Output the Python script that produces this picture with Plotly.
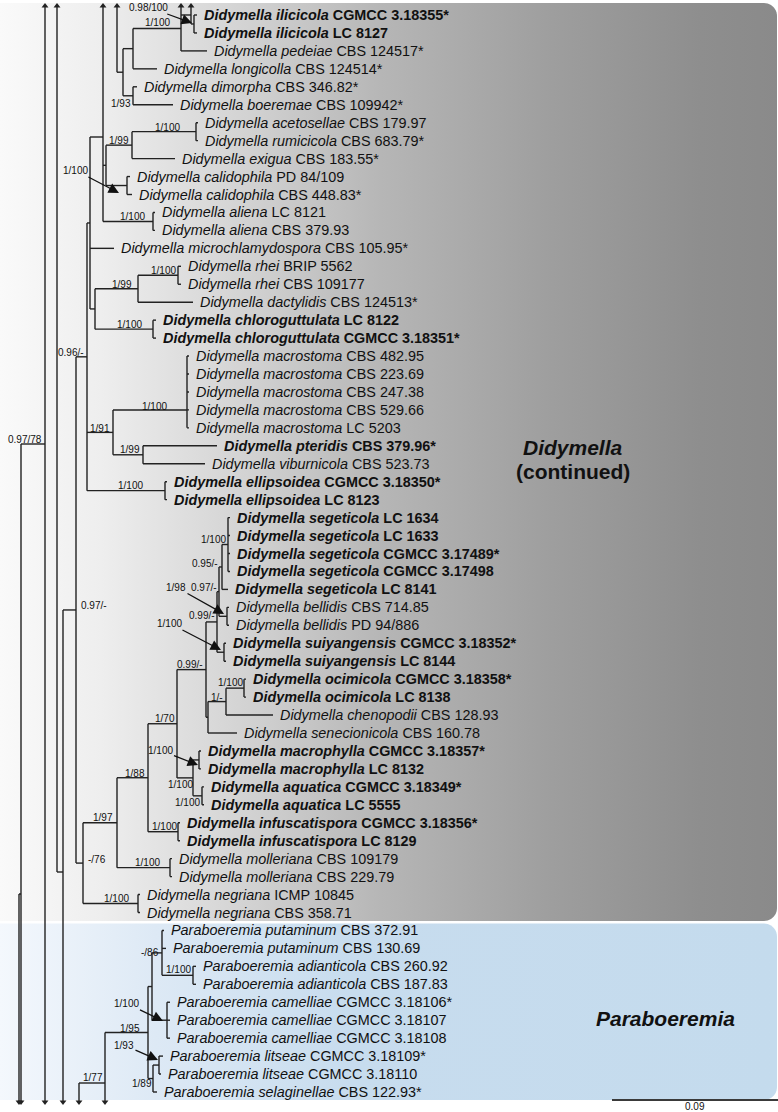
import numpy as np
import plotly.graph_objects as go

W, H = 778, 1112
ROW0, ROWH = 15.0, 17.95      # first leaf row and row spacing (px units of the axes)
GHOST_UP, GHOST_DOWN = 6.0, 1102.0

# ---------------- leaves ----------------
leaf_taxon = [
    "Didymella ilicicola", "Didymella ilicicola", "Didymella pedeiae", "Didymella longicolla",
    "Didymella dimorpha", "Didymella boeremae", "Didymella acetosellae", "Didymella rumicicola",
    "Didymella exigua", "Didymella calidophila", "Didymella calidophila", "Didymella aliena",
    "Didymella aliena", "Didymella microchlamydospora", "Didymella rhei", "Didymella rhei",
    "Didymella dactylidis", "Didymella chloroguttulata", "Didymella chloroguttulata",
    "Didymella macrostoma", "Didymella macrostoma", "Didymella macrostoma", "Didymella macrostoma",
    "Didymella macrostoma", "Didymella pteridis", "Didymella viburnicola", "Didymella ellipsoidea",
    "Didymella ellipsoidea", "Didymella segeticola", "Didymella segeticola", "Didymella segeticola",
    "Didymella segeticola", "Didymella segeticola", "Didymella bellidis", "Didymella bellidis",
    "Didymella suiyangensis", "Didymella suiyangensis", "Didymella ocimicola", "Didymella ocimicola",
    "Didymella chenopodii", "Didymella senecionicola", "Didymella macrophylla", "Didymella macrophylla",
    "Didymella aquatica", "Didymella aquatica", "Didymella infuscatispora", "Didymella infuscatispora",
    "Didymella molleriana", "Didymella molleriana", "Didymella negriana", "Didymella negriana",
    "Paraboeremia putaminum", "Paraboeremia putaminum", "Paraboeremia adianticola",
    "Paraboeremia adianticola", "Paraboeremia camelliae", "Paraboeremia camelliae",
    "Paraboeremia camelliae", "Paraboeremia litseae", "Paraboeremia litseae",
    "Paraboeremia selaginellae",
]
leaf_strain = [
    "CGMCC 3.18355*", "LC 8127", "CBS 124517*", "CBS 124514*", "CBS 346.82*", "CBS 109942*",
    "CBS 179.97", "CBS 683.79*", "CBS 183.55*", "PD 84/109", "CBS 448.83*", "LC 8121",
    "CBS 379.93", "CBS 105.95*", "BRIP 5562", "CBS 109177", "CBS 124513*", "LC 8122",
    "CGMCC 3.18351*", "CBS 482.95", "CBS 223.69", "CBS 247.38", "CBS 529.66", "LC 5203",
    "CBS 379.96*", "CBS 523.73", "CGMCC 3.18350*", "LC 8123", "LC 1634", "LC 1633",
    "CGMCC 3.17489*", "CGMCC 3.17498", "LC 8141", "CBS 714.85", "PD 94/886", "CGMCC 3.18352*",
    "LC 8144", "CGMCC 3.18358*", "LC 8138", "CBS 128.93", "CBS 160.78", "CGMCC 3.18357*",
    "LC 8132", "CGMCC 3.18349*", "LC 5555", "CGMCC 3.18356*", "LC 8129", "CBS 109179",
    "CBS 229.79", "ICMP 10845", "CBS 358.71", "CBS 372.91", "CBS 130.69", "CBS 260.92",
    "CBS 187.83", "CGMCC 3.18106*", "CGMCC 3.18107", "CGMCC 3.18108", "CGMCC 3.18109*",
    "CGMCC 3.18110", "CBS 122.93*",
]
leaf_bold = [
    1, 1, 0, 0, 0, 0, 0, 0, 0, 0, 0, 0, 0, 0, 0, 0, 0, 1, 1, 0, 0, 0, 0, 0, 1, 0, 1, 1,
    1, 1, 1, 1, 1, 0, 0, 1, 1, 1, 1, 0, 0, 1, 1, 1, 1, 1, 1, 0, 0, 0, 0,
    0, 0, 0, 0, 0, 0, 0, 0, 0, 0,
]
leaf_parent = [
    "ilic", "ilic", "B", "C", "D", "D", "acet", "acet", "H1", "cali", "cali", "alie", "alie",
    "I", "rhei", "rhei", "P", "chlo", "chlo", "macr", "macr", "macr", "macr", "macr", "pter",
    "pter", "elli", "elli", "seg4", "seg4", "seg4", "seg4", "AA", "bell", "bell", "suiy",
    "suiy", "ocim", "ocim", "Z", "Y", "maph", "maph", "aqua", "aqua", "infu", "infu", "moll",
    "moll", "negr", "negr", "puta", "puta", "adia", "adia", "came", "came", "came", "lits",
    "lits", "PD",
]
leaf_tip = [
    197, 197, 207, 157, 137, 173, 198, 198, 175, 130, 132, 155, 155, 114, 181, 181, 193,
    156, 156, 189, 189, 189, 189, 189, 217, 205, 167, 167, 230, 230, 230, 230, 228, 229,
    229, 226, 226, 246, 246, 273, 237, 201, 201, 204, 204, 180, 180, 172, 172, 140, 140,
    164, 166, 196, 196, 170, 170, 170, 163, 161, 157,
]

# ---------------- internal nodes ----------------
node_name = [
    "ilic", "A", "B", "C", "D", "E", "F", "acet", "H1", "cali", "H", "alie", "G", "rhei", "P",
    "chlo", "J", "I", "macr", "pter", "N", "elli", "K", "seg4", "AA", "bell", "BB", "suiy",
    "X", "ocim", "Z", "Y", "W", "maph", "aqua", "V", "U", "infu", "T", "moll", "S", "negr",
    "R", "O", "N63", "N57", "N45", "N21", "N19",
    "puta", "adia", "came", "PC", "lits", "PD", "PB", "N105", "N79",
]
node_parent = [
    "A", "B", "C", "E", "E", "F", None, "H1", "H", "H", "G", "G", "I", "P", "J",
    "J", "I", "K", "N", "N", "K", "K", "O", "AA", "BB", "BB", "X", "X",
    "W", "Z", "Y", "W", "U", "V", "V", "U", "T", "T", "S", "S", "R", "R",
    "O", "N63", "N57", None, "N21", "N19", None,
    "PC", "puta", "PC", "PB", "PD", "PB", "N105", "N79", None,
]
node_depth = [
    194, 191, 181, 133, 133, 123, 117, 196, 132, 127, 106, 153, 103, 178, 138,
    153, 95, 90, 187, 143, 113, 165, 87, 228, 222, 227, 219, 224,
    217, 244, 226, 208, 206, 199, 202, 193, 177, 178, 148, 170, 117, 138,
    83, 76, 63, 57, 45, 21, 19,
    162, 193, 167, 152, 159, 153, 148, 105, 79,
]
# branches leaving the page (tree continues on the neighbouring figure pages)
node_ghost = {"A": "u", "B": "u", "F": "u", "G": "u", "N57": "u", "N45": "ud",
              "N21": "d", "N19": "d", "N63": "d", "N105": "d", "N79": "d"}
node_ypos = {"G": 137, "macr": 410, "N63": 872, "N45": 444, "N21": 894, "N105": 1083}

# ---------------- support values ----------------
sup_text = ["0.98/100", "1/100", "1/93", "1/100", "1/99", "1/100", "1/100", "1/100", "1/99",
            "1/100", "0.96/-", "1/100", "1/91", "1/99", "1/100", "0.97/78", "1/100", "0.95/-",
            "0.97/-", "1/98", "0.99/-", "1/100", "0.99/-", "1/100", "1/-", "1/70", "1/100",
            "1/88", "1/100", "1/100", "1/97", "1/100", "-/76", "1/100", "1/100", "0.97/-",
            "-/86", "1/100", "1/100", "1/95", "1/93", "1/89", "1/77"]
sup_x = [148, 157, 121, 167, 119, 75, 132, 163, 122, 129, 71, 154, 100, 130, 130, 25, 213,
         205, 204, 176, 202, 169, 190, 230, 217, 165, 160, 135, 180, 187, 103, 164, 97, 147,
         116, 94, 150, 178, 126, 130, 124, 142, 93]
sup_y = [7, 22, 103, 127, 140, 170, 216, 270, 284, 324, 352, 406, 428, 449, 485, 439, 539,
         563, 587, 587, 615, 623, 664, 682, 697, 718, 750, 773, 784, 802, 817, 826, 859, 862,
         898, 605, 952, 969, 1003, 1028, 1045, 1083, 1077]
sup_arrow_to = {0: (192, 23), 5: (119, 193), 19: (224, 614), 21: (221, 650),
                26: (198, 765), 38: (163, 1021), 40: (158, 1060)}

clade_text = ["<b><i>Didymella</i></b>", "<b>(continued)</b>", "<b><i>Paraboeremia</i></b>"]
clade_x = [573, 573, 665]
clade_y = [447, 471, 1018]

scale_value = 0.09
scale_px = 166          # length of the 0.09 scale bar in axis units

# ---------------- layout of the tree ----------------
n_leaf = len(leaf_taxon)
leaf_y = [ROW0 + ROWH * i for i in range(n_leaf)]
depth = dict(zip(node_name, node_depth))
parent = dict(zip(node_name, node_parent))
children = {n: [] for n in node_name}
for i, p in enumerate(leaf_parent):
    children[p].append(("leaf", i))
for n, p in zip(node_name, node_parent):
    if p is not None:
        children[p].append(("node", n))

ypos = {}


def child_ys(n):
    ys = [leaf_y[c] if k == "leaf" else node_y(c) for k, c in children[n]]
    g = node_ghost.get(n, "")
    if "u" in g:
        ys.append(GHOST_UP)
    if "d" in g:
        ys.append(GHOST_DOWN)
    return ys


def node_y(n):
    if n not in ypos:
        ys = child_ys(n)
        ypos[n] = node_ypos.get(n, (min(ys) + max(ys)) / 2.0)
    return ypos[n]


for n in node_name:
    node_y(n)

sx, sy = [], []
for n in node_name:
    ys = child_ys(n)
    sx += [depth[n], depth[n], None]
    sy += [min(ys), max(ys), None]
    if parent[n] is not None:
        sx += [depth[parent[n]], depth[n], None]
        sy += [ypos[n], ypos[n], None]
for i in range(n_leaf):
    sx += [depth[leaf_parent[i]], leaf_tip[i], None]
    sy += [leaf_y[i], leaf_y[i], None]

up_x = [depth[n] for n in node_name if "u" in node_ghost.get(n, "")]
dn_x = [depth[n] for n in node_name if "d" in node_ghost.get(n, "")]


def rrect(x0, x1, y0, y1, r):
    t1 = np.linspace(np.pi / 2, 0, 12)
    t2 = np.linspace(0, -np.pi / 2, 12)
    xs = [x0] + list(x1 - r + r * np.cos(t1)) + list(x1 - r + r * np.cos(t2)) + [x0, x0]
    ys = [y0] + list(y0 + r - r * np.sin(t1)) + list(y1 - r - r * np.sin(t2)) + [y1, y0]
    return xs, ys


fig = go.Figure()
bx, by = rrect(0, 777, 3, 921, 13)
fig.add_trace(go.Scatter(
    x=bx, y=by, mode="none", fill="toself", hoverinfo="skip",
    fillgradient=dict(type="horizontal", start=0, stop=778,
                      colorscale=[[0, "#fafafa"], [0.13, "#eeeeee"], [0.32, "#d2d2d2"],
                                  [0.49, "#b6b6b6"], [0.71, "#9e9e9e"], [0.9, "#8e8e8e"],
                                  [1, "#8a8a8a"]])))
px_, py_ = rrect(0, 777, 923.5, 1100, 13)
fig.add_trace(go.Scatter(
    x=px_, y=py_, mode="none", fill="toself", hoverinfo="skip",
    fillgradient=dict(type="horizontal", start=0, stop=778,
                      colorscale=[[0, "#f4f8fd"], [0.2, "#dde9f5"], [0.45, "#c7dcee"],
                                  [1, "#c4dbed"]])))

fig.add_trace(go.Scatter(x=sx, y=sy, mode="lines", hoverinfo="skip",
                         line=dict(color="#222222", width=1.4)))
fig.add_trace(go.Scatter(x=up_x, y=[GHOST_UP] * len(up_x), mode="markers", hoverinfo="skip",
                         marker=dict(symbol="triangle-up", size=6, color="#222222")))
fig.add_trace(go.Scatter(x=dn_x, y=[GHOST_DOWN] * len(dn_x), mode="markers", hoverinfo="skip",
                         marker=dict(symbol="triangle-down", size=6, color="#222222")))

# scale bar
fig.add_trace(go.Scatter(x=[W - scale_px, W], y=[1100, 1100], mode="lines", hoverinfo="skip",
                         line=dict(color="#3a3a3a", width=2.2)))

FONT = "Liberation Sans, Arial, sans-serif"
ann = []
for i in range(n_leaf):
    t = f"<i>{leaf_taxon[i]}</i> {leaf_strain[i]}"
    if leaf_bold[i]:
        t = f"<b>{t}</b>"
    ann.append(dict(x=leaf_tip[i], y=leaf_y[i], text=t, showarrow=False, xanchor="left",
                    yanchor="middle", xshift=5, font=dict(size=14.4, color="#111", family=FONT)))
for k, t in enumerate(sup_text):
    if k in sup_arrow_to:
        tx, ty = sup_arrow_to[k]
        ann.append(dict(x=tx, y=ty, ax=sup_x[k], ay=sup_y[k], axref="x", ayref="y", text=t,
                        showarrow=True, arrowhead=2, arrowsize=1.6, arrowwidth=1.3,
                        arrowcolor="#111", standoff=0, startstandoff=0,
                        font=dict(size=10, color="#111", family=FONT)))
    else:
        ann.append(dict(x=sup_x[k], y=sup_y[k], text=t, showarrow=False, xanchor="center",
                        yanchor="middle", font=dict(size=10, color="#111", family=FONT)))
for t, x, y in zip(clade_text, clade_x, clade_y):
    ann.append(dict(x=x, y=y, text=t, showarrow=False, xanchor="center", yanchor="middle",
                    font=dict(size=21, color="#111", family=FONT)))
ann.append(dict(x=W - scale_px / 2, y=1106, text=f"{scale_value:.2f}", showarrow=False,
                xanchor="center", yanchor="middle", borderpad=0,
                font=dict(size=10, color="#111", family=FONT)))

fig.update_layout(
    width=W, height=H, margin=dict(l=0, r=0, t=0, b=0),
    paper_bgcolor="white", plot_bgcolor="white", showlegend=False,
    xaxis=dict(range=[0, W], visible=False, fixedrange=True),
    yaxis=dict(range=[H, 0], visible=False, fixedrange=True),
    annotations=ann,
)
fig.write_html("out.html", config={"displayModeBar": False},
               post_script="document.body.style.margin='0';document.body.style.overflow='hidden';")
